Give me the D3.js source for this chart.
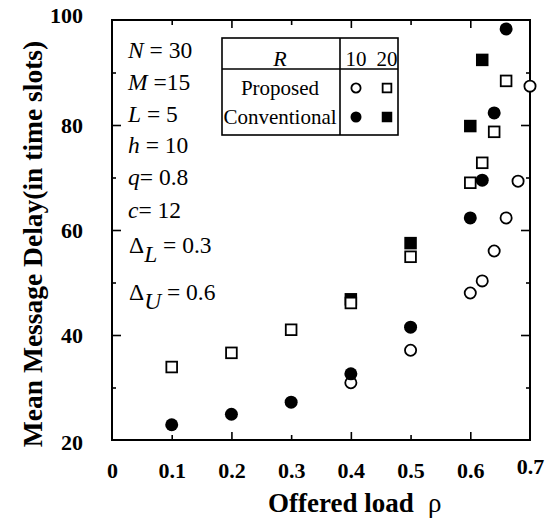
<!DOCTYPE html>
<html>
<head>
<meta charset="utf-8">
<script src="https://cdn.jsdelivr.net/npm/d3@7"></script>
<style>
  body { margin: 0; background: #fff; }
  svg text, svg tspan { font-family: "Liberation Serif", "Times New Roman", serif; fill: #000; }
</style>
</head>
<body>
<div id="chart"></div>
<script>
// offered load (x) and mean delay (y) for each series
const loadProp10 = [0.4, 0.5, 0.6, 0.62, 0.64, 0.66, 0.68, 0.7];
const delayProp10 = [30.9, 37.1, 48.0, 50.3, 56.0, 62.3, 69.3, 87.4];

const loadProp20 = [0.1, 0.2, 0.3, 0.4, 0.5, 0.6, 0.62, 0.64, 0.66];
const delayProp20 = [33.9, 36.6, 41.0, 46.1, 54.9, 69.0, 72.8, 78.7, 88.4];

const loadConv10 = [0.1, 0.2, 0.3, 0.4, 0.5, 0.6, 0.62, 0.64, 0.66];
const delayConv10 = [22.9, 24.9, 27.2, 32.6, 41.5, 62.3, 69.5, 82.3, 98.3];

const loadConv20 = [0.4, 0.5, 0.6, 0.62];
const delayConv20 = [46.8, 57.5, 79.8, 92.4];

const xTickValues = [0, 0.1, 0.2, 0.3, 0.4, 0.5, 0.6, 0.7];
const yTickValues = [20, 40, 60, 80, 100];

// draw order: filled squares, open squares, open circles, filled circles
var series = [
    { name: "Conventional", R: 20, shape: "square", filled: true, xs: loadConv20, ys: delayConv20 },
    { name: "Proposed", R: 20, shape: "square", filled: false, xs: loadProp20, ys: delayProp20 },
    { name: "Proposed", R: 10, shape: "circle", filled: false, xs: loadProp10, ys: delayProp10 },
    { name: "Conventional", R: 10, shape: "circle", filled: true, xs: loadConv10, ys: delayConv10 }
];

var W = 552, H = 521;
var margin = { top: 20, right: 22, bottom: 81, left: 112 };
var SERIF = "Liberation Serif";

var svg = d3.select("#chart")
    .append("svg")
    .attr("width", W)
    .attr("height", H);

var x = d3.scaleLinear()
    .domain([0, 0.7])
    .range([margin.left, W - margin.right]);

var y = d3.scaleLinear()
    .domain([20, 100])
    .range([H - margin.bottom, margin.top]);

var x0 = x.range()[0], x1 = x.range()[1];
var y0 = y.range()[0], y1 = y.range()[1];

// inward ticks on all four sides
function tickLayer(axisFn, pos, values, size) {
    svg.append("g")
        .attr("transform", pos)
        .call(axisFn.tickValues(values).tickSize(size).tickFormat(""))
        .call(g => g.select(".domain").remove())
        .call(g => g.selectAll("line").attr("stroke", "#000").attr("stroke-width", 1.6));
}
tickLayer(d3.axisBottom(x), "translate(0," + y0 + ")", [0.2, 0.4, 0.6], -8);
tickLayer(d3.axisBottom(x), "translate(0," + y0 + ")", [0.1, 0.3, 0.5], -5);
tickLayer(d3.axisTop(x), "translate(0," + y1 + ")", [0.2, 0.4, 0.6], -8);
tickLayer(d3.axisTop(x), "translate(0," + y1 + ")", [0.1, 0.3, 0.5], -5);
tickLayer(d3.axisLeft(y), "translate(" + x0 + ",0)", [40, 60, 80], -9);
tickLayer(d3.axisLeft(y), "translate(" + x0 + ",0)", [30, 50, 70, 90], -4);
tickLayer(d3.axisRight(y), "translate(" + x1 + ",0)", [40, 60, 80], -9);
tickLayer(d3.axisRight(y), "translate(" + x1 + ",0)", [30, 50, 70, 90], -4);

// tick labels
svg.append("g")
    .attr("transform", "translate(0," + y0 + ")")
    .call(d3.axisBottom(x).tickValues(xTickValues).tickSize(0).tickPadding(22)
        .tickFormat(d => d === 0 ? "0" : d3.format(".1f")(d)))
    .call(g => g.select(".domain").remove())
    .call(g => g.selectAll("text")
        .style("font-family", SERIF)
        .style("font-size", "22px")
        .style("font-weight", "bold")
        .attr("fill", "#000")
        .attr("y", d => d === 0.7 ? 18 : 22));

svg.append("g")
    .attr("transform", "translate(" + x0 + ",0)")
    .call(d3.axisLeft(y).tickValues(yTickValues).tickSize(0).tickPadding(29))
    .call(g => g.select(".domain").remove())
    .call(g => g.selectAll("text")
        .style("font-family", SERIF)
        .style("font-size", "22px")
        .style("font-weight", "bold")
        .attr("fill", "#000")
        .attr("dy", d => d === 100 ? "0.1em" : d === 20 ? "0.45em" : "0.32em"));

// frame
svg.append("rect")
    .attr("x", x0).attr("y", y1)
    .attr("width", x1 - x0).attr("height", y0 - y1)
    .attr("fill", "none")
    .attr("stroke", "#000")
    .attr("stroke-width", 2);

// axis titles
var xTitle = svg.append("text")
    .attr("x", 268).attr("y", 512)
    .style("font-family", SERIF)
    .style("font-size", "27px");
xTitle.append("tspan").attr("font-weight", "bold").text("Offered load");
xTitle.append("tspan").attr("x", 428).text("ρ");

svg.append("text")
    .attr("transform", "translate(42," + ((y0 + y1) / 2 + 14) + ") rotate(-90)")
    .attr("text-anchor", "middle")
    .style("font-family", SERIF)
    .style("font-size", "27.5px")
    .style("font-weight", "bold")
    .text("Mean Message Delay(in time slots)");

// parameter block
var params = [
    { v: "N", rest: " = 30", base: 58 },
    { v: "M", rest: " =15", base: 90 },
    { v: "L", rest: " = 5", base: 122 },
    { v: "h", rest: " = 10", base: 153 },
    { v: "q", rest: "= 0.8", base: 185 },
    { v: "c", rest: "= 12", base: 218 }
];
params.forEach(function (p) {
    var t = svg.append("text")
        .attr("x", 128).attr("y", p.base)
        .style("font-family", SERIF)
        .style("font-size", "23.5px");
    t.append("tspan").attr("font-style", "italic").text(p.v);
    t.append("tspan").text(p.rest);
});
[{ sub: "L", rest: " = 0.3", base: 253 }, { sub: "U", rest: " = 0.6", base: 300 }].forEach(function (p) {
    var t = svg.append("text")
        .attr("x", 129).attr("y", p.base)
        .style("font-family", SERIF)
        .style("font-size", "23.5px");
    t.append("tspan").text("Δ");
    t.append("tspan").attr("font-style", "italic").attr("dy", 9).text(p.sub);
    t.append("tspan").attr("dy", -9).text(p.rest);
});

// legend table
var lg = { left: 222, right: 398, top: 38, bottom: 135, mid: 69, split: 340 };
svg.append("rect")
    .attr("x", lg.left).attr("y", lg.top)
    .attr("width", lg.right - lg.left).attr("height", lg.bottom - lg.top)
    .attr("fill", "#fff").attr("stroke", "#000").attr("stroke-width", 1.6);
svg.append("line")
    .attr("x1", lg.left).attr("x2", lg.right).attr("y1", lg.mid).attr("y2", lg.mid)
    .attr("stroke", "#000").attr("stroke-width", 1.6);
svg.append("line")
    .attr("x1", lg.split).attr("x2", lg.split).attr("y1", lg.top).attr("y2", lg.bottom)
    .attr("stroke", "#000").attr("stroke-width", 1.6);

svg.append("text").attr("x", 280).attr("y", 66).attr("text-anchor", "middle")
    .attr("font-style", "italic").style("font-family", SERIF).style("font-size", "22px").text("R");
var colX = { 10: 356, 20: 387 };
var rowY = { "Proposed": 88, "Conventional": 117 };
[10, 20].forEach(function (r) {
    svg.append("text").attr("x", colX[r]).attr("y", 66).attr("text-anchor", "middle")
        .style("font-family", SERIF).style("font-size", "21px").text(r);
});
["Proposed", "Conventional"].forEach(function (n) {
    svg.append("text").attr("x", 280).attr("y", rowY[n] + 7).attr("text-anchor", "middle")
        .style("font-family", SERIF).style("font-size", "21px").text(n);
});

function drawMarker(sel, s, size) {
    var strokeW = s.filled ? 0 : 1.8;
    if (s.shape === "circle") {
        sel.append("circle")
            .attr("r", s.filled ? size / 2 : size / 2 - 0.9)
            .attr("fill", s.filled ? "#000" : "#fff")
            .attr("stroke", "#000").attr("stroke-width", strokeW);
    } else {
        var side = s.filled ? size - 0.5 : size - 2.3;
        sel.append("rect")
            .attr("x", -side / 2).attr("y", -side / 2)
            .attr("width", side).attr("height", side)
            .attr("fill", s.filled ? "#000" : "#fff")
            .attr("stroke", "#000").attr("stroke-width", strokeW);
    }
}

series.forEach(function (s) {
    var g = svg.append("g")
        .attr("transform", "translate(" + colX[s.R] + "," + rowY[s.name] + ")");
    drawMarker(g, s, 11);
});

// data points
series.forEach(function (s) {
    var pts = s.xs.map((v, i) => [v, s.ys[i]]);
    svg.append("g").selectAll("g")
        .data(pts)
        .join("g")
        .attr("transform", d => "translate(" + x(d[0]) + "," + y(d[1]) + ")")
        .each(function () { drawMarker(d3.select(this), s, 13); });
});
</script>
</body>
</html>
